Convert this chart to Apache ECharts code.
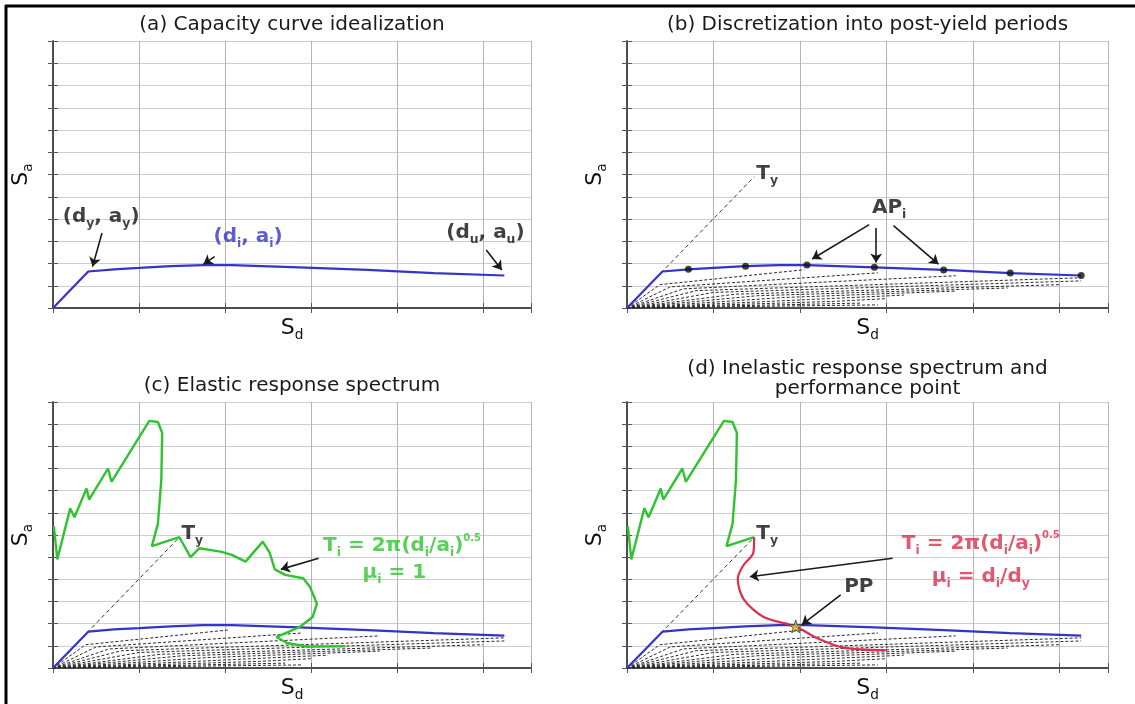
<!DOCTYPE html>
<html>
<head>
<meta charset="utf-8">
<script src="https://cdn.jsdelivr.net/npm/echarts@6/dist/echarts.min.js"></script>
<style>
  html, body { margin: 0; padding: 0; background: #fff; }
  #chart { width: 1135px; height: 704px; }
</style>
</head>
<body>
<div id="chart"></div>
<script>
// values, in grid cells (Sd: 1 cell per vertical grid line, Sa: 1 per horizontal)
const capacityCurve = [[0, 0], [0.41, 1.64], [0.71, 1.74], [1.0, 1.8], [1.37, 1.88], [1.75, 1.93],
  [2.08, 1.93], [2.86, 1.83], [3.66, 1.71], [4.43, 1.57], [5.25, 1.46]]
const adaptivePoints = [[0.71, 1.74], [1.37, 1.88], [2.08, 1.93], [2.86, 1.83], [3.66, 1.71], [4.43, 1.57], [5.25, 1.46]]
const yieldPeriodLine = [[0, 0], [1.47, 5.9]]
const periodCurves = [
  [[0, 0], [0.38, 1.05], [2.05, 1.72]],
  [[0, 0], [0.5, 0.95], [2.9, 1.58]],
  [[0, 0], [0.65, 0.86], [3.8, 1.45]],
  [[0, 0], [0.8, 0.78], [5.25, 1.36]],
  [[0, 0], [1.0, 0.7], [5.25, 1.22]],
  [[0, 0], [1.25, 0.62], [5.0, 1.05]],
  [[0, 0], [1.5, 0.55], [4.4, 0.9]],
  [[0, 0], [1.8, 0.47], [3.8, 0.76]],
  [[0, 0], [2.1, 0.38], [3.2, 0.58]],
  [[0, 0], [2.4, 0.3], [3.0, 0.42]],
  [[0, 0], [2.7, 0.22]],
  [[0, 0], [2.9, 0.14]]
]
const elasticSpectrum = [[0.01, 6.4], [0.05, 4.9], [0.2, 7.2], [0.25, 6.8], [0.39, 8.1], [0.42, 7.6],
  [0.64, 9.0], [0.68, 8.4], [1.12, 11.15], [1.22, 11.1], [1.27, 10.6], [1.26, 8.5], [1.22, 6.5],
  [1.15, 5.5], [1.47, 5.9], [1.6, 5.0], [1.7, 5.4], [1.95, 5.25], [2.08, 5.1], [2.24, 4.8],
  [2.44, 5.7], [2.52, 5.2], [2.58, 4.45], [2.7, 4.2], [2.91, 4.05], [2.99, 3.65], [3.07, 2.9],
  [3.02, 2.3], [2.87, 1.85], [2.72, 1.6], [2.6, 1.4], [2.72, 1.13], [2.95, 0.97], [3.4, 0.98]]
const elasticUpToYield = elasticSpectrum.slice(0, 15)
const inelasticSpectrum = [[1.47, 5.9], [1.46, 5.2], [1.34, 4.6], [1.28, 4.0], [1.35, 3.1],
  [1.58, 2.3], [1.95, 1.87], [2.18, 1.38], [2.5, 0.92], [3.0, 0.8]]
const performancePoint = [[1.95, 1.88]]
const SD_MAX = 5.56
const SA_MAX = 12

const titles = ['(a) Capacity curve idealization', '(b) Discretization into post-yield periods',
  '(c) Elastic response spectrum', '(d) Inelastic response spectrum and\nperformance point']

const FONT = 'DejaVu Sans'
const BLUE = '#3434c8'
const GREEN = '#2fc42f'
const RED = '#d8304e'

const grids = [
  { left: 53, top: 41, width: 478, height: 267 },
  { left: 627, top: 41, width: 481, height: 267 },
  { left: 53, top: 402, width: 478, height: 266 },
  { left: 627, top: 402, width: 481, height: 266 }
]

// 'T_i' -> subscript, '^0.5' -> superscript
const rt = (s) => s.split(/(_\w|\^[\w.]+)/).filter(t => t).map(t => {
  if (t[0] === '_') return '{s|' + t.slice(1) + '}'
  if (t[0] === '^') return '{p|' + t.slice(1) + '}'
  return '{m|' + t + '}'
}).join('')
const rich = (color, size, weight) => ({
  m: { fontFamily: FONT, fontSize: size, fontWeight: weight, lineHeight: size + 6, color },
  s: { fontFamily: FONT, fontSize: size * 0.62, fontWeight: weight, lineHeight: size * 0.62, verticalAlign: 'bottom', color },
  p: { fontFamily: FONT, fontSize: size * 0.5, fontWeight: weight, lineHeight: size * 0.5, verticalAlign: 'top', color }
})

const notes = [
  [{ at: [0.56, 4.1], text: '(d_y, a_y)', color: '#111' },
   { at: [2.27, 3.2], text: '(d_i, a_i)', color: BLUE },
   { at: [5.03, 3.4], text: '(d_u, a_u)', color: '#111' }],
  [{ at: [1.62, 6.05], text: 'T_y', color: '#111' },
   { at: [3.03, 4.5], text: 'AP_i', color: '#111' }],
  [{ at: [1.62, 6.05], text: 'T_y', color: '#111' },
   { at: [4.06, 5.5], text: 'T_i = 2π(d_i/a_i)^0.5', color: GREEN },
   { at: [3.97, 4.3], text: 'μ_i = 1', color: GREEN }],
  [{ at: [1.62, 6.05], text: 'T_y', color: '#111' },
   { at: [4.09, 5.62], text: 'T_i = 2π(d_i/a_i)^0.5', color: RED },
   { at: [4.09, 4.12], text: 'μ_i = d_i/d_y', color: RED },
   { at: [2.68, 3.67], text: 'PP', color: '#111' }]
]
const arrows = [
  [[[0.57, 3.37], [0.46, 1.86]], [[1.88, 2.31], [1.75, 1.97]], [[5.04, 2.61], [5.22, 1.71]]],
  [[[2.8, 3.75], [2.14, 2.2]], [[2.88, 3.6], [2.88, 2.05]], [[3.08, 3.7], [3.6, 1.97]]],
  [[[3.09, 4.95], [2.65, 4.45]]],
  [[[3.07, 4.95], [1.42, 4.12]], [[2.47, 3.3], [2.02, 1.95]]]
]

const line = (i, data, color, width, type, z) => ({
  type: 'line', xAxisIndex: i, yAxisIndex: i, data, symbol: 'none', silent: true,
  lineStyle: { color, width, type: type || 'solid' }, z: z || 3
})

const series = []
grids.forEach((g, i) => {
  if (i > 0) {
    periodCurves.forEach(c => series.push(line(i, c, '#2a2a2a', 1, [3, 2], 2)))
    series.push(line(i, yieldPeriodLine, '#333', 1, [4, 3], 2))
  }
  series.push(line(i, capacityCurve, BLUE, 2.2, 'solid', 4))
  if (i === 1) {
    series.push({
      type: 'scatter', xAxisIndex: i, yAxisIndex: i, data: adaptivePoints,
      symbolSize: 7, itemStyle: { color: '#111' }, z: 5, silent: true
    })
  }
  if (i === 2) series.push(line(i, elasticSpectrum, GREEN, 2.4, 'solid', 5))
  if (i === 3) {
    series.push(line(i, elasticUpToYield, GREEN, 2.4, 'solid', 5))
    series.push(Object.assign(line(i, inelasticSpectrum, RED, 2.2, 'solid', 5), { smooth: 0.3 }))
    series.push({
      type: 'scatter', xAxisIndex: i, yAxisIndex: i, data: performancePoint, silent: true,
      symbol: 'path://M50,0 L61,35 L98,35 L68,57 L79,91 L50,70 L21,91 L32,57 L2,35 L39,35 Z',
      symbolSize: 13, itemStyle: { color: '#d8c426', borderColor: '#333', borderWidth: 1 }, z: 7
    })
  }
  series.push({
    type: 'lines', coordinateSystem: 'cartesian2d', xAxisIndex: i, yAxisIndex: i, silent: true,
    data: arrows[i].map(c => ({ coords: c })),
    symbol: ['none', 'arrow'], symbolSize: 9,
    lineStyle: { color: '#1a1a1a', width: 1.6, opacity: 1 }, z: 6
  })
  series.push({
    type: 'scatter', xAxisIndex: i, yAxisIndex: i, silent: true, symbolSize: 1,
    itemStyle: { color: 'rgba(0,0,0,0)' }, z: 8,
    data: notes[i].map(n => ({
      value: n.at,
      label: { show: true, position: 'inside', formatter: rt(n.text), rich: rich(n.color, 20, 'bold') }
    }))
  })
})

const tick = () => ({ show: true, inside: false, length: 5, lineStyle: { color: '#555' } })
const border = () => ({ show: true, lineStyle: { color: '#444', width: 1.5 } })
const xAxis = [], yAxis = []
grids.forEach((g, i) => {
  xAxis.push({
    gridIndex: i, type: 'value', min: 0, max: SD_MAX, interval: 1,
    name: rt('S_d'), nameLocation: 'middle', nameGap: 6,
    nameTextStyle: { rich: rich('#111', 22, 'normal') },
    axisLabel: { show: false }, axisLine: border(), axisTick: tick(),
    splitLine: { lineStyle: { color: '#b4b4b4', width: 1 } }
  })
  yAxis.push({
    gridIndex: i, type: 'value', min: 0, max: SA_MAX, interval: 1,
    name: rt('S_a'), nameLocation: 'middle', nameGap: 18, nameRotate: 90,
    nameTextStyle: { rich: rich('#111', 22, 'normal') },
    axisLabel: { show: false }, axisLine: border(), axisTick: tick(),
    splitLine: { lineStyle: { color: '#cdcdcd', width: 1 } }
  })
})
grids.forEach((g, i) => {
  xAxis.push({
    gridIndex: i, type: 'value', position: 'top', min: 0, max: SD_MAX, interval: 1,
    axisLabel: { show: false }, axisLine: border(), splitLine: { show: false }, axisTick: tick()
  })
  yAxis.push({
    gridIndex: i, type: 'value', position: 'right', min: 0, max: SA_MAX, interval: 1,
    axisLabel: { show: false }, axisLine: border(), splitLine: { show: false }, axisTick: tick()
  })
})

const titleY = [25, 25, 386, 379]
const graphic = [
  { type: 'line', shape: { x1: 6, y1: 5, x2: 6, y2: 704 }, style: { stroke: '#000', lineWidth: 3 } },
  { type: 'line', shape: { x1: 5, y1: 6, x2: 1135, y2: 6 }, style: { stroke: '#000', lineWidth: 3 } }
].concat(grids.map((g, i) => ({
  type: 'text', x: g.left + g.width / 2, y: titleY[i],
  style: {
    text: titles[i], align: 'center', verticalAlign: 'middle',
    font: '20px "' + FONT + '"', fill: '#1a1a1a', lineHeight: 20
  }
})))

const chart = echarts.init(document.getElementById('chart'))
chart.setOption({
  animation: false,
  backgroundColor: '#fff',
  grid: grids,
  xAxis, yAxis, series, graphic
})
</script>
</body>
</html>
